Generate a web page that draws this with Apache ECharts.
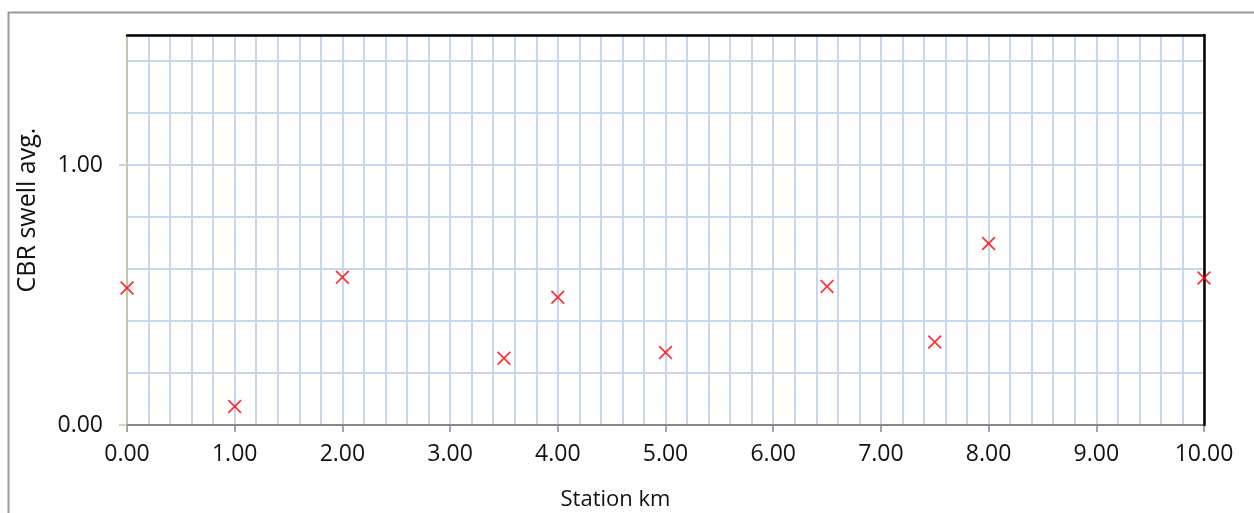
<!DOCTYPE html>
<html>
<head>
<meta charset="utf-8">
<script src="https://cdn.jsdelivr.net/npm/echarts@6/dist/echarts.min.js"></script>
<style>
html,body{margin:0;padding:0;background:#fff;}
#chart{width:1254px;height:513px;}
</style>
</head>
<body>
<div id="chart"></div>
<script>
const stationKm = [0, 1, 2, 3.5, 4, 5, 6.5, 7.5, 8, 10];
const cbrSwellAvg = [0.527, 0.071, 0.568, 0.257, 0.491, 0.279, 0.533, 0.319, 0.698, 0.565];
const xAxisTitle = 'Station km';
const yAxisTitle = 'CBR swell avg.';

const points = stationKm.map((x, i) => [x, cbrSwellAvg[i]]);
const FONT = 'Open Sans';
const gridBlue = '#c5d8f0';
const xMark = 'path://M0,1.8L1.8,0L10,8.2L18.2,0L20,1.8L11.8,10L20,18.2L18.2,20L10,11.8L1.8,20L0,18.2L8.2,10Z';

const chart = echarts.init(document.getElementById('chart'));
chart.setOption({
  animation: false,
  backgroundColor: '#fff',
  graphic: [{
    type: 'rect', left: 6, top: 10, z: -10,
    shape: {width: 1247, height: 520},
    style: {fill: 'none', stroke: '#9a9a9a', lineWidth: 2}
  }],
  grid: {left: 127, right: 50, top: 35, bottom: 88, outerBoundsMode: 'none', containLabel: false},
  xAxis: [{
    type: 'value', min: 0, max: 10, interval: 1,
    name: xAxisTitle, nameLocation: 'middle', nameGap: 64,
    nameTextStyle: {fontFamily: FONT, fontSize: 22, color: '#111', padding: [0, 100, 0, 0]},
    axisLine: {show: true, onZero: false, lineStyle: {color: '#878787', width: 2}},
    axisTick: {show: true, inside: false, length: 7, lineStyle: {color: '#878787', width: 1.5}},
    axisLabel: {fontFamily: FONT, fontSize: 23, color: '#111', margin: 18, formatter: v => v.toFixed(2)},
    splitLine: {show: true, lineStyle: {color: gridBlue, width: 2}},
    minorTick: {show: false, splitNumber: 5},
    minorSplitLine: {show: true, lineStyle: {color: gridBlue, width: 2}}
  }, {
    type: 'value', position: 'top', min: 0, max: 10, interval: 1, z: 10,
    axisLine: {show: true, onZero: false, lineStyle: {color: '#000', width: 2.5}},
    axisTick: {show: false}, axisLabel: {show: false}, splitLine: {show: false}
  }],
  yAxis: [{
    type: 'value', min: 0, max: 1.5, interval: 1,
    name: yAxisTitle, nameLocation: 'middle', nameGap: 87, nameRotate: 90,
    nameTextStyle: {fontFamily: FONT, fontSize: 25, color: '#111', padding: [0, 0, 0, 40]},
    axisLine: {show: true, onZero: false, lineStyle: {color: '#c9c5b0', width: 2}},
    axisTick: {show: true, inside: false, length: 8, lineStyle: {color: '#d6d2bd', width: 2}},
    axisLabel: {fontFamily: FONT, fontSize: 23, color: '#111', margin: 24, showMaxLabel: false, formatter: v => (v === 0 || v === 1) ? v.toFixed(2) : ''},
    splitLine: {show: true, lineStyle: {color: gridBlue, width: 2}},
    minorTick: {show: false, splitNumber: 5},
    minorSplitLine: {show: true, lineStyle: {color: gridBlue, width: 2}}
  }, {
    type: 'value', position: 'right', min: 0, max: 1.5, interval: 1, z: 10,
    axisLine: {show: true, onZero: false, lineStyle: {color: '#000', width: 2.5}},
    axisTick: {show: false}, axisLabel: {show: false}, splitLine: {show: false}
  }],
  series: [{
    type: 'scatter',
    data: points,
    symbol: xMark,
    symbolSize: 14,
    itemStyle: {color: '#ff0000'},
    clip: false,
    z: 20
  }]
});
</script>
</body>
</html>
